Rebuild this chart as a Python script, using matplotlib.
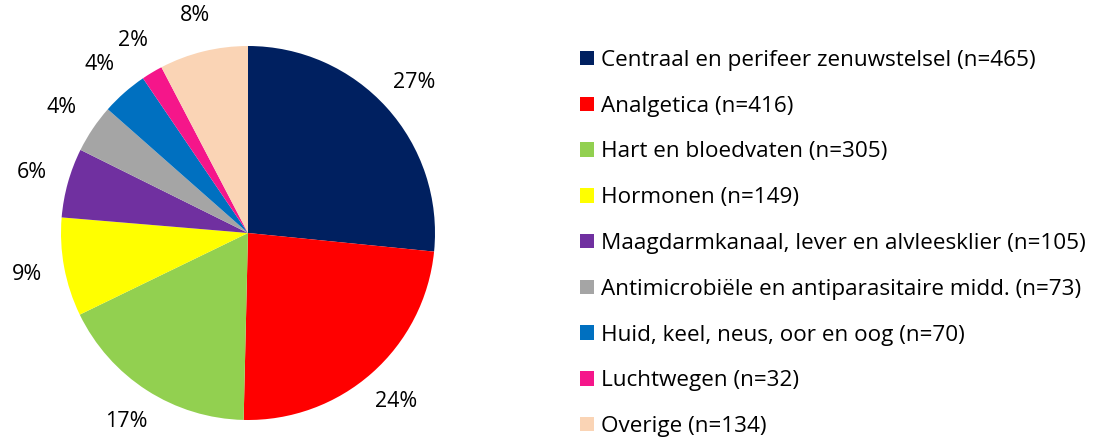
import matplotlib.pyplot as plt

plt.rcParams['font.family'] = ['Open Sans', 'DejaVu Sans']

# geneesmiddelgroepen en aantallen
groepen = ["Centraal en perifeer zenuwstelsel", "Analgetica", "Hart en bloedvaten",
           "Hormonen", "Maagdarmkanaal, lever en alvleesklier",
           "Antimicrobiële en antiparasitaire midd.", "Huid, keel, neus, oor en oog",
           "Luchtwegen", "Overige"]
aantallen = [465, 416, 305, 149, 105, 73, 70, 32, 134]
kleuren = ["#002060", "#FF0000", "#92D050", "#FFFF00", "#7030A0",
           "#A5A5A5", "#0070C0", "#F5168A", "#FAD4B5"]

fig = plt.figure(figsize=(10.94, 4.37), dpi=100)
W, H = 1094, 437
cx, cy, r = 248, 233, 187
ax = fig.add_axes([(cx - r) / W, (H - cy - r) / H, 2 * r / W, 2 * r / H])

wedges, _, pcts = ax.pie(aantallen, colors=kleuren, startangle=90, counterclock=False,
                         autopct='%1.0f%%', pctdistance=1.2, radius=1,
                         textprops={'fontsize': 15.5, 'color': '#000000'})
ax.set_xlim(-1, 1)
ax.set_ylim(-1, 1)
ax.set_aspect('equal')

labels = [f"{g} (n={n})" for g, n in zip(groepen, aantallen)]
fig.legend(wedges, labels, loc='upper left', bbox_to_anchor=(580 / W, 1 - 50 / H),
           frameon=False, fontsize=16.2, handlelength=0.62, handleheight=0.62,
           handletextpad=0.33, labelspacing=1.1, borderaxespad=0, borderpad=0)

fig.savefig("out.png", dpi=100)
